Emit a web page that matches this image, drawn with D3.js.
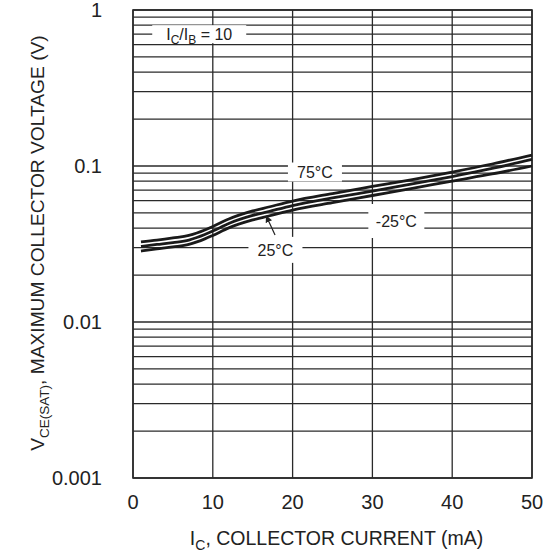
<!DOCTYPE html>
<html>
<head>
<meta charset="utf-8">
<script src="https://cdn.jsdelivr.net/npm/d3@7"></script>
<style>
	body { margin: 0; background: #fff; }
	text { font-family: "Liberation Sans", Arial, sans-serif; fill: #222; }
</style>
</head>
<body>
<div id="canvas"></div>
<script>
// collector current (mA) where the curves were read
var currentMA = [1, 3, 5, 7, 8, 9, 10, 12, 15, 17, 20, 25, 30, 35, 40, 45, 50];
// VCE(sat) in volts for each temperature
var vce75 = [0.0326, 0.0335, 0.0346, 0.0359, 0.0372, 0.0389, 0.0410, 0.0457, 0.0515, 0.0546, 0.0596, 0.0666, 0.0739, 0.0819, 0.0915, 0.1030, 0.1176];
var vce25 = [0.0305, 0.0314, 0.0323, 0.0335, 0.0348, 0.0364, 0.0383, 0.0428, 0.0482, 0.0511, 0.0558, 0.0624, 0.0691, 0.0767, 0.0856, 0.0964, 0.1101];
var vceM25 = [0.0285, 0.0294, 0.0303, 0.0314, 0.0326, 0.0341, 0.0359, 0.0401, 0.0451, 0.0478, 0.0522, 0.0583, 0.0647, 0.0718, 0.0801, 0.0889, 0.1000];

var xTicks = [0, 10, 20, 30, 40, 50];
var yTicks = [0.001, 0.01, 0.1, 1];
var yTickLabels = ["0.001", "0.01", "0.1", "1"];

// label boxes: [mA, volts, box width, box height, text]
var curveLabels = [
	[22.8, 0.0915, 54, 19, "75°C"],
	[33.0, 0.0444, 56, 34, "-25°C"],
	[17.85, 0.0290, 54, 26, "25°C"]
];
var ratioLabel = [8.3, 0.70, 94, 18];
var arrowFrom = [17.8, 0.0361];
var arrowTo = [16.7, 0.0478];

var w = 557, h = 560;
var margin = {left: 133, right: 25, top: 10, bottom: 82};

var svg = d3.select("#canvas")
	.append("svg")
	.attr("width", w)
	.attr("height", h);

var x = d3.scaleLinear()
	.domain([0, 50])
	.range([margin.left, w - margin.right]);

var y = d3.scaleLog()
	.domain([0.001, 1])
	.range([h - margin.bottom, margin.top]);

var grid = svg.append("g")
	.attr("stroke", "#2a2a2a")
	.attr("stroke-width", 1.3);

grid.selectAll(".hgrid")
	.data(y.ticks())
	.enter()
	.append("line")
	.attr("x1", x(0))
	.attr("x2", x(50))
	.attr("y1", function(d){ return y(d); })
	.attr("y2", function(d){ return y(d); });

grid.selectAll(".vgrid")
	.data(xTicks)
	.enter()
	.append("line")
	.attr("x1", function(d){ return x(d); })
	.attr("x2", function(d){ return x(d); })
	.attr("y1", y(1))
	.attr("y2", y(0.001));

grid.append("rect")
	.attr("x", x(0))
	.attr("y", y(1))
	.attr("width", x(50) - x(0))
	.attr("height", y(0.001) - y(1))
	.attr("fill", "none")
	.attr("stroke-width", 1.6);

// white boxes behind the labels
svg.selectAll(".labelBox")
	.data(curveLabels)
	.enter()
	.append("rect")
	.attr("fill", "#fff")
	.attr("x", function(d){ return x(d[0]) - d[2] / 2; })
	.attr("y", function(d){ return y(d[1]) - d[3] / 2; })
	.attr("width", function(d){ return d[2]; })
	.attr("height", function(d){ return d[3]; });

svg.append("rect")
	.attr("fill", "#fff")
	.attr("x", x(ratioLabel[0]) - ratioLabel[2] / 2)
	.attr("y", y(ratioLabel[1]) - ratioLabel[3] / 2)
	.attr("width", ratioLabel[2])
	.attr("height", ratioLabel[3]);

var line = d3.line()
	.x(function(d){ return x(d[0]); })
	.y(function(d){ return y(d[1]); })
	.curve(d3.curveMonotoneX);

[vce75, vce25, vceM25].forEach(function(series){
	svg.append("path")
		.datum(currentMA.map(function(c, i){ return [c, series[i]]; }))
		.attr("d", line)
		.attr("fill", "none")
		.attr("stroke", "#1a1a1a")
		.attr("stroke-width", 2.8);
});

svg.append("defs")
	.append("marker")
	.attr("id", "arrow")
	.attr("viewBox", "0 0 10 10")
	.attr("refX", 9)
	.attr("refY", 5)
	.attr("markerWidth", 7)
	.attr("markerHeight", 7)
	.attr("markerUnits", "userSpaceOnUse")
	.attr("orient", "auto")
	.append("path")
	.attr("d", "M0,0L10,5L0,10Z")
	.attr("fill", "#222");

svg.append("line")
	.attr("x1", x(arrowFrom[0]))
	.attr("y1", y(arrowFrom[1]))
	.attr("x2", x(arrowTo[0]))
	.attr("y2", y(arrowTo[1]))
	.attr("stroke", "#222")
	.attr("stroke-width", 1.2)
	.attr("marker-end", "url(#arrow)");

svg.selectAll(".curveLabel")
	.data(curveLabels)
	.enter()
	.append("text")
	.attr("x", function(d){ return x(d[0]); })
	.attr("y", function(d){ return y(d[1]) + 6; })
	.attr("text-anchor", "middle")
	.attr("font-size", 16)
	.text(function(d){ return d[4]; });

var ratio = svg.append("text")
	.attr("x", x(ratioLabel[0]))
	.attr("y", y(ratioLabel[1]) + 6)
	.attr("text-anchor", "middle")
	.attr("font-size", 16);
ratio.append("tspan").text("I");
ratio.append("tspan").attr("font-size", 12).attr("dy", 4).text("C");
ratio.append("tspan").attr("dy", -4).text("/I");
ratio.append("tspan").attr("font-size", 12).attr("dy", 4).text("B");
ratio.append("tspan").attr("dy", -4).text(" = 10");

// tick labels
svg.selectAll(".xTick")
	.data(xTicks)
	.enter()
	.append("text")
	.attr("x", function(d){ return x(d); })
	.attr("y", y(0.001) + 31)
	.attr("text-anchor", "middle")
	.attr("font-size", 20)
	.text(function(d){ return d; });

svg.selectAll(".yTick")
	.data(yTicks)
	.enter()
	.append("text")
	.attr("x", x(0) - 31)
	.attr("y", function(d){ return y(d) + 7; })
	.attr("text-anchor", "end")
	.attr("font-size", 20)
	.text(function(d, i){ return yTickLabels[i]; });

// axis titles
var xTitle = svg.append("text")
	.attr("x", (x(0) + x(50)) / 2 + 4)
	.attr("y", y(0.001) + 67)
	.attr("text-anchor", "middle")
	.attr("font-size", 19.5);
xTitle.append("tspan").text("I");
xTitle.append("tspan").attr("font-size", 14).attr("dy", 5).text("C");
xTitle.append("tspan").attr("dy", -5).text(", COLLECTOR CURRENT (mA)");

var yTitle = svg.append("text")
	.attr("transform", "translate(44," + ((y(1) + y(0.001)) / 2 - 1) + ") rotate(-90)")
	.attr("text-anchor", "middle")
	.attr("font-size", 19.2);
yTitle.append("tspan").text("V");
yTitle.append("tspan").attr("font-size", 13.5).attr("dy", 5).text("CE(SAT)");
yTitle.append("tspan").attr("dy", -5).text(", MAXIMUM COLLECTOR VOLTAGE (V)");
</script>
</body>
</html>
